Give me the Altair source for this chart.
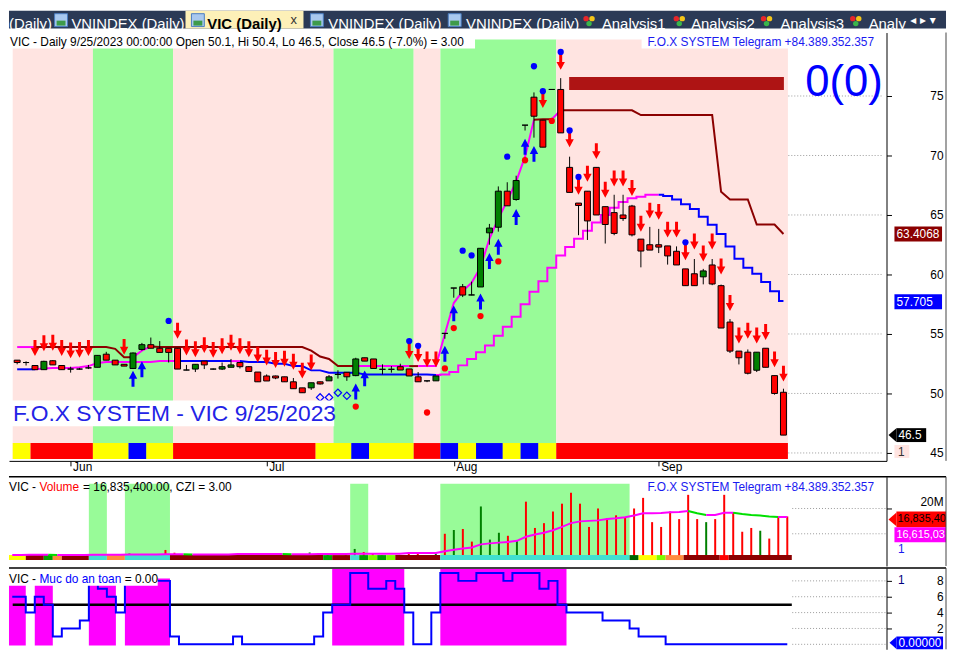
import altair as alt
import pandas as pd

# ============================ values ============================
opens = [52.8, 52.6, 52.35, 52.0, 52.75, 52.35, 52.05, 52.05, 52.15, 52.2,
         53.3, 52.8, 52.45, 52.1, 53.7, 54.1, 53.8, 53.8, 53.8, 51.97,
         52.05, 52.72, 52.05, 52.05, 52.2, 52.6, 52.25, 51.8, 51.47, 51.47,
         51.4, 50.98, 50.47, 50.47, 50.98, 51.06, 51.6, 51.78, 51.5, 53.0,
         52.9, 52.03, 52.03, 52.25, 52.06, 51.4, 51.06, 51.06, 55.05, 58.86,
         58.97, 58.28, 58.95, 63.5, 63.97, 67.0, 66.3, 72.55, 74.9, 72.97,
         75.55, 75.55, 69.0, 66.0, 67.0, 69.0, 65.7, 65.2, 65.0, 65.75,
         62.97, 62.5, 62.5, 62.4, 61.95, 60.47, 60.06, 59.8, 60.8, 59.06,
         56.0, 53.56, 53.47, 51.95, 53.8, 51.5, 50.1]
highs = [52.8, 52.7, 52.35, 52.75, 52.8, 52.35, 52.25, 52.15, 52.4, 53.2,
         53.5, 52.8, 52.45, 53.45, 54.25, 54.7, 54.4, 53.8, 53.8, 52.4,
         52.45, 52.72, 52.1, 52.6, 52.9, 52.6, 52.3, 51.8, 51.6, 51.5,
         51.4, 51.3, 50.47, 50.9, 51.0, 51.55, 51.95, 51.78, 53.0, 53.0,
         52.9, 52.45, 52.3, 52.5, 52.06, 51.8, 51.06, 51.47, 55.05, 58.86,
         59.2, 59.4, 62.2, 64.25, 67.4, 67.75, 68.3, 72.55, 75.3, 72.97,
         75.55, 76.5, 69.9, 66.0, 67.0, 69.0, 65.7, 66.7, 66.7, 65.85,
         62.97, 64.0, 63.83, 62.4, 62.36, 60.47, 61.3, 60.47, 61.3, 59.15,
         56.25, 53.56, 53.7, 53.47, 53.8, 51.5, 50.4]
lows = [52.45, 52.35, 52.0, 52.0, 52.4, 52.0, 51.75, 52.0, 52.05, 52.2,
        52.8, 52.4, 52.3, 52.05, 53.6, 53.8, 53.45, 52.6, 52.05, 51.95,
        51.8, 52.05, 52.0, 51.97, 52.2, 52.1, 51.85, 50.98, 51.05, 51.2,
        50.98, 50.4, 50.06, 50.3, 50.75, 51.06, 51.25, 51.06, 51.45, 52.72,
        52.1, 51.6, 51.75, 51.97, 51.47, 50.98, 50.95, 51.06, 54.6, 58.05,
        58.1, 58.25, 58.95, 62.5, 63.6, 65.77, 66.2, 72.1, 71.5, 70.7,
        75.55, 71.9, 66.9, 63.3, 62.9, 65.0, 62.6, 63.3, 64.5, 63.2,
        60.6, 62.05, 61.8, 60.83, 60.8, 59.06, 59.06, 59.17, 59.1, 55.5,
        53.4, 52.44, 51.6, 51.8, 52.2, 49.9, 46.5]
closes = [52.6, 52.6, 52.0, 52.7, 52.4, 52.0, 52.05, 52.05, 52.15, 53.2,
          52.8, 52.4, 52.3, 53.4, 54.1, 53.8, 53.45, 53.45, 52.05, 51.97,
          52.45, 52.4, 52.05, 52.25, 52.4, 52.25, 51.85, 50.98, 51.05, 51.3,
          50.98, 50.4, 50.06, 50.9, 50.8, 51.4, 51.6, 51.4, 52.9, 52.72,
          52.1, 52.03, 52.03, 51.97, 51.47, 50.98, 51.06, 51.47, 55.05, 58.86,
          58.27, 58.28, 62.2, 63.9, 67.0, 65.77, 67.9, 72.55, 73.3, 70.7,
          75.55, 71.9, 66.9, 65.8, 64.5, 65.0, 64.2, 63.45, 64.7, 63.33,
          61.97, 62.05, 62.3, 61.56, 60.8, 59.06, 59.06, 60.3, 59.2, 55.5,
          53.56, 53.0, 51.7, 53.47, 52.2, 50.0, 46.5]

month_names = ["Jun", "Jul", "Aug", "Sep"]
month_first_bar = [6, 28, 49, 72]
price_ticks = [45, 50, 55, 60, 65, 70, 75]

zone_runs = [("bear", 0, 8), ("bull", 9, 17), ("bear", 18, 35), ("bull", 36, 44),
             ("bear", 45, 47), ("bull", 48, 60), ("bear", 61, 86)]
signal_runs = [("Y", 0, 1), ("R", 2, 8), ("Y", 9, 12), ("B", 13, 14), ("Y", 15, 17),
               ("R", 18, 33), ("Y", 34, 37), ("B", 38, 39), ("Y", 40, 44), ("R", 45, 47),
               ("B", 48, 49), ("Y", 50, 51), ("B", 52, 54), ("Y", 55, 56), ("B", 57, 58),
               ("Y", 59, 60), ("R", 61, 86)]

upper_band = [53.9, 53.9, 53.9, 53.9, 53.9, 53.9, 53.9, 53.9, 53.9, 53.9,
              53.9, 53.75, 53.05, 53.05, 53.6, 53.95, 53.9, 53.9, 53.9, 53.9,
              53.9, 53.9, 53.9, 53.9, 53.9, 53.9, 53.9, 53.9, 53.9, 53.9,
              53.9, 53.9, 53.9, 53.6, 53.1, 52.9, 52.3, 52.3, 52.3, 52.3,
              52.3, 52.3, 52.3, 52.3, 52.3, 52.3, 52.3, 52.3, 55.0, 57.6,
              58.6, 59.3, 60.6, 63.0, 64.7, 66.2, 67.8, 69.9, 73.0, 73.05,
              73.05, 73.8, 73.8, 73.8, 73.8, 73.8, 73.8, 73.8, 73.8, 73.8,
              73.4, 73.4, 73.4, 73.4, 73.4, 73.4, 73.4, 73.4, 73.4, 66.95,
              66.3, 66.3, 66.3, 64.2, 64.2, 64.2, 63.4]
upper_runs = [("M", 0, 1), ("R", 2, 12), ("M", 13, 14), ("R", 15, 37), ("M", 38, 43),
              ("R", 44, 44), ("M", 45, 57), ("R", 58, 59), ("M", 60, 60), ("R", 61, 85)]
lower_band = [52.03, 52.03, 52.03, 52.1, 52.14, 52.14, 52.14, 52.2, 52.3, 52.56,
              52.64, 52.64, 52.64, 52.64, 52.64, 52.64, 52.72, 52.72, 52.72, 52.72,
              52.72, 52.72, 52.72, 52.72, 52.72, 52.72, 52.64, 52.64, 52.64, 52.5,
              52.5, 52.3, 52.3, 51.94, 51.94, 51.75, 51.75, 51.75, 51.75, 51.6,
              51.6, 51.6, 51.6, 51.6, 51.6, 51.6, 51.6, 51.55]
lower_runs = [("B", 0, 1), ("M", 2, 17), ("B", 18, 23), ("M", 24, 24), ("B", 25, 46)]
trend_start = 47
trend_line = [51.55, 51.6, 51.8, 52.36, 52.9, 53.47, 54.03, 54.86, 55.6, 56.44,
              57.5, 58.55, 59.44, 60.56, 61.6, 62.3, 63.0, 63.67, 64.36, 65.0,
              65.6, 66.1, 66.4, 66.53, 66.7, 66.7, 66.6, 66.3, 65.9, 65.5,
              64.86, 64.17, 63.4, 62.36, 61.33, 60.56, 60.06, 59.36, 58.6, 57.78]
trend_runs = [("M", 47, 71), ("B", 72, 85)]

sell_bars = [2, 3, 4, 5, 6, 7, 8, 12, 18, 19, 20, 21, 22, 23, 24, 25, 26, 27, 28, 29,
             30, 31, 32, 33, 44, 45, 46, 47, 59, 61, 62, 63, 64, 65, 66, 67, 68, 69,
             70, 71, 72, 73, 74, 75, 76, 77, 78, 79, 80, 81, 82, 83, 84, 85, 86]
sell_tips = [53.15, 53.55, 53.6, 53.15, 52.95, 53.0, 53.15, 53.25, 54.6, 53.2,
             53.05, 53.4, 53.0, 53.3, 53.6, 53.3, 53.05, 52.6, 52.35, 52.15,
             52.25, 52.0, 51.25, 51.94, 52.9, 52.64, 52.2, 52.2, 74.0, 77.2,
             70.7, 66.7, 67.8, 69.7, 66.45, 67.4, 67.4, 66.6, 63.6, 64.7,
             64.6, 63.1, 63.1, 61.2, 62.1, 61.1, 62.1, 60.0, 56.94, 54.2,
             54.6, 54.2, 54.5, 52.2, 51.0]
buy_bars = [13, 14, 38, 39, 48, 49, 52, 53, 54, 56, 57, 58]
buy_tips = [51.9, 52.7, 50.83, 51.94, 54.0, 57.4, 58.4, 61.8, 63.0, 65.5, 71.4, 70.8]
blue_dot_bars = [17, 44, 45, 50, 51, 55, 58, 59, 61, 62, 63, 75]
blue_dot_vals = [56.1, 54.4, 54.0, 62.0, 61.6, 69.9, 77.5, 75.4, 78.7, 72.1, 68.2, 62.7]
red_dot_bars = [38, 46, 48, 49, 52, 54, 57, 60]
red_dot_vals = [48.9, 48.4, 52.1, 55.5, 56.5, 61.1, 69.6, 72.9]
ring_bars = [34, 35, 36, 37]
ring_vals = [49.67, 49.67, 50.06, 49.8]
zone_box = {"x0": 61.95, "x1": 86.05, "lo": 75.5, "hi": 76.6}

price_tag_vals = [63.4068, 57.705]
price_tag_text = ["63.4068", "57.705"]
price_tag_kind = ["R", "B"]
last_close = 46.5
last_close_text = "46.5"

volume_m = [1.2, 0.8, 1.0, 1.5, 1.2, 1.0, 0.8, 0.7, 0.9, 2.0,
            1.5, 1.2, 0.8, 2.2, 1.8, 1.5, 1.2, 3.6, 2.5, 1.0,
            1.2, 1.1, 0.8, 1.0, 1.3, 1.4, 1.6, 2.0, 1.5, 1.0,
            1.3, 1.6, 1.8, 2.6, 1.4, 2.0, 1.2, 1.5, 4.0, 2.8,
            2.0, 1.5, 1.3, 1.6, 2.0, 2.4, 1.5, 2.2, 10.0, 11.5,
            11.9, 6.9, 20.8, 7.7, 10.4, 9.2, 7.3, 22.7, 12.3, 14.2,
            18.8, 21.9, 26.2, 21.9, 12.7, 20.0, 16.2, 17.3, 16.5, 20.0,
            24.2, 14.6, 12.7, 18.8, 15.8, 25.4, 15.8, 14.6, 15.8, 25.4,
            18.5, 10.8, 12.3, 11.2, 8.1, 16.9, 16.84]
volume_ma_m = [1.6, 1.6, 1.7, 1.7, 1.7, 1.6, 1.6, 1.6, 1.6, 1.7,
               1.7, 1.7, 1.7, 1.8, 1.8, 1.8, 1.8, 1.9, 1.9, 1.9,
               1.8, 1.8, 1.8, 1.8, 1.8, 2.0, 2.0, 2.0, 2.0, 2.0,
               2.0, 1.9, 1.9, 1.9, 2.0, 2.0, 2.0, 2.0, 2.1, 2.1,
               2.1, 2.1, 2.1, 2.1, 2.4, 2.4, 2.4, 2.4, 3.1, 3.7,
               4.2, 4.6, 5.8, 6.2, 6.5, 6.7, 7.2, 8.8, 9.7, 10.4,
               11.4, 12.7, 14.2, 14.9, 15.1, 15.3, 15.8, 16.1, 16.5, 17.2,
               18.1, 18.1, 18.2, 18.5, 18.6, 19.0, 18.1, 17.4, 17.4, 18.3,
               18.3, 17.8, 17.4, 17.2, 16.8, 16.6, 16.62]
green_volume_dojis = [49]
vol_zone_runs = [(9, 10), (13, 17), (38, 39), (48, 68)]
vol_strip_runs = [("y", 0, 1), ("d", 2, 3), ("g", 4, 4), ("o", 5, 5), ("d", 6, 8), ("c", 9, 10),
                  ("o", 11, 12), ("c", 13, 17), ("d", 18, 34), ("g", 35, 35), ("d", 36, 37),
                  ("c", 38, 38), ("g", 39, 39), ("l", 40, 40), ("g", 41, 41), ("l", 42, 42),
                  ("d", 43, 47), ("c", 48, 68), ("k", 69, 69), ("y", 70, 71), ("l", 72, 72),
                  ("o", 73, 74), ("d", 75, 78), ("r", 79, 79), ("d", 80, 86)]
vol_grid = [10, 20]
vol_ticks = [20]

safety = [6, 6, 4, 6, 5, 1, 2, 2, 3, 8,
          7, 6, 4, 8, 8.3, 8, 8, 8, 1, 0,
          0, 0, 0, 0, 0, 1, 0, 0, 0, 0,
          0, 0, 0, 0, 1, 4, 5, 5, 9, 9,
          7, 7, 8, 7, 4, 0, 0, 4, 9, 9,
          8, 8, 9, 9, 9, 8, 9, 9, 9, 7,
          8, 5, 4, 4, 4, 4, 3, 3, 3, 2,
          1, 1, 1, 0, 0, 0, 0, 0, 0, 0,
          0, 0, 0, 0, 0, 0, 0]
safety_block_runs = [(0, 1, 8.3), (3, 4, 8.3), (9, 11, 8.3), (13, 17, 8.3), (36, 43, 9.5), (48, 61, 9.5)]
safety_grid = [0, 2, 4, 6, 8]
safety_ticks = [2, 4, 6, 8]
safety_level = 5

tab_names = ["(Daily)", "VNINDEX (Daily)", "VIC (Daily)", "VNINDEX (Daily)", "VNINDEX (Daily)",
             "Analysis1", "Analysis2", "Analysis3", "Analy"]
active_tab = 2

TITLE_PRICE = "VIC - Daily 9/25/2023 00:00:00 Open 50.1, Hi 50.4, Lo 46.5, Close 46.5 (-7.0%)  = 3.00"
BRAND = "F.O.X SYSTEM Telegram +84.389.352.357"
BIG = "0(0)"
WATERMARK = "F.O.X SYSTEM - VIC 9/25/2023"
VOL_TITLE = ["VIC -", "Volume", "= 16,835,400.00, CZI = 3.00"]
VOL_TAGS = ["16,835,40", "16,615,03"]
SAFE_TITLE = ["VIC -", "Muc do an toan", "= 0.00"]
SAFE_TAG = "0.00000"

# ============================ styles and layout ============================
FONT = "Liberation Sans"
LINE_COL = {"R": "#8B0000", "M": "#FF00FF", "B": "#0000FF"}
ZONE_COL = {"bear": "#FFE4E1", "bull": "#98FB98"}
SIG_COL = {"Y": "#FFFF00", "R": "#FF0000", "B": "#0000FF"}
VSTRIP_COL = {"y": "#FFFF00", "d": "#8B0000", "g": "#00A000", "o": "#FF8C40", "c": "#40E0D0",
              "l": "#7CFC00", "k": "#006400", "r": "#FF0000"}
UP_COL, DOWN_COL = "#008000", "#FF0000"
TAB_TEXT_X = [0, 63, 200, 322, 461, 598, 688, 778, 867]
CHART_ICON_X = [46, 184, 304, 443]
HEART_ICON_X = [582, 673, 761, 851]

PW = 885
PH, VH, SH, TH, TW = 432, 90, 82, 18, 945
X_DOM = [-0.361, 97.01]
GRID_FROM = 86.55

DOWN = "M0,0L-0.85,-1.6L-0.3,-1.6L-0.3,-3.2L0.3,-3.2L0.3,-1.6L0.85,-1.6Z"
UP = "M0,0L-0.85,1.6L-0.3,1.6L-0.3,3.2L0.3,3.2L0.3,1.6L0.85,1.6Z"
LEFT_TIP = "M-1,0L1,-1.75L1,1.75Z"

one = pd.DataFrame({"k": [0]})


def txt(s, x, y, size=12, color="black", align="left", baseline="alphabetic", weight="normal", font=FONT):
    return alt.Chart(one).mark_text(text=s, align=align, baseline=baseline, fontSize=size, color=color,
                                    fontWeight=weight, font=font).encode(x=alt.value(x), y=alt.value(y))


def box(x0, x1, y0, y1, color):
    return alt.Chart(one).mark_rect(color=color).encode(
        x=alt.value(x0), x2=alt.value(x1), y=alt.value(y0), y2=alt.value(y1))


def vline(x, h, color="#444444"):
    return alt.Chart(one).mark_rule(color=color, strokeWidth=1).encode(
        x=alt.value(x), y=alt.value(0), y2=alt.value(h))


def runs_rects(runs, palette):
    return pd.DataFrame([{"x0": a - 0.5, "x1": b + 0.5, "col": palette[c]} for c, a, b in runs])


def run_segments(start, values, runs, name):
    rows = []
    last = start + len(values) - 1
    for n, (code, a, b) in enumerate(runs):
        for k in range(a, min(b + 1, last) + 1):
            rows.append({"seg": f"{name}{n}", "i": k, "v": values[k - start], "col": LINE_COL[code]})
    return rows


x_scale = alt.Scale(domain=X_DOM, nice=False, zero=False)

# ============================ tab bar ============================
tab_scale = alt.Scale(domain=[0, TW], nice=False, zero=False)
tabs_df = pd.DataFrame({"name": tab_names, "x": TAB_TEXT_X})
inactive = tabs_df.drop(index=active_tab)
active = tabs_df.loc[[active_tab]]
icon_df = pd.DataFrame({"x0": CHART_ICON_X, "x1": [v + 13 for v in CHART_ICON_X],
                        "g0": [v + 2 for v in CHART_ICON_X], "g1": [v + 11 for v in CHART_ICON_X]})
heart_df = pd.DataFrame({"x": HEART_ICON_X})
TX = lambda f: alt.X(f + ":Q", scale=tab_scale, axis=None)

tabs = alt.layer(
    box(0, TW, 0, TH, "#2B3A56"),
    box(178, 297, 0, TH, "#FDF0B8"),
    alt.Chart(icon_df).mark_rect(color="#A9C8EE", stroke="#4A7CC0", strokeWidth=1).encode(
        x=TX("x0"), x2="x1", y=alt.value(3), y2=alt.value(16)),
    alt.Chart(icon_df).mark_rect(color="#3E9B4A").encode(x=TX("g0"), x2="g1", y=alt.value(10), y2=alt.value(15)),
    alt.Chart(heart_df).mark_point(shape="circle", filled=True, size=30, color="#E8262A", opacity=1).encode(
        x=TX("x"), y=alt.value(8)),
    alt.Chart(heart_df).mark_point(shape="circle", filled=True, size=30, color="#F5C518", opacity=1).encode(
        x=TX("x"), y=alt.value(8), xOffset=alt.value(6)),
    alt.Chart(heart_df).mark_point(shape="circle", filled=True, size=30, color="#3BB54A", opacity=1).encode(
        x=TX("x"), y=alt.value(13), xOffset=alt.value(3)),
    alt.Chart(inactive).mark_text(align="left", fontSize=15, color="white", font=FONT).encode(
        x=TX("x"), y=alt.value(13), text="name:N"),
    alt.Chart(active).mark_text(align="left", fontSize=15, color="black", fontWeight="bold", font=FONT).encode(
        x=TX("x"), y=alt.value(13), text="name:N"),
    txt("x", 284, 13, size=13, color="#333333"),
    txt("\u25c2 \u25b8 \u25be", 909, 13, size=12, color="white", font="DejaVu Sans"),
).properties(width=TW, height=TH)

# ============================ price panel ============================
label_expr = " : ".join(f"datum.value == {b} ? '{m}'" for b, m in zip(month_first_bar, month_names)) + " : ''"
px_axis = alt.Axis(values=month_first_bar, labelExpr=label_expr, orient="bottom", domainColor="black",
                   tickColor="black", tickSize=5, labelAlign="left", labelBaseline="top", labelPadding=-4,
                   labelOffset=2, labelFontSize=12, labelColor="black", labelFont=FONT, grid=False,
                   title=None, labelFlush=False, labelOverlap=False)
price_scale = alt.Scale(domain=[44.3333, 80.3333], nice=False, zero=False)
py_axis = alt.Axis(values=price_ticks, orient="right", domainColor="black", tickColor="black", tickSize=5,
                   labelAlign="right", labelBaseline="middle", labelPadding=52, labelFontSize=12,
                   labelColor="black", labelFont=FONT, grid=False, title=None)
PX = lambda f: alt.X(f + ":Q", scale=x_scale, axis=px_axis)
PY = lambda f: alt.Y(f + ":Q", scale=price_scale, axis=py_axis)
COL = alt.Color("col:N", scale=None)

candles = pd.DataFrame({"i": range(len(opens)), "o": opens, "h": highs, "l": lows, "c": closes})
candles["col"] = [UP_COL if c > o else DOWN_COL for o, c in zip(opens, closes)]

zones = runs_rects(zone_runs, ZONE_COL)
signals = runs_rects(signal_runs, SIG_COL)
pgrid = pd.DataFrame({"v": price_ticks, "x0": GRID_FROM, "x1": X_DOM[1]})
lines_lin = pd.DataFrame(run_segments(0, upper_band, upper_runs, "u") + run_segments(0, lower_band, lower_runs, "l"))
lines_step = pd.DataFrame(run_segments(trend_start, trend_line, trend_runs, "s"))
sell = pd.DataFrame({"i": sell_bars, "v": sell_tips})
buy = pd.DataFrame({"i": buy_bars, "v": buy_tips})
bdots = pd.DataFrame({"i": blue_dot_bars, "v": blue_dot_vals})
rdots = pd.DataFrame({"i": red_dot_bars, "v": red_dot_vals})
rings = pd.DataFrame({"i": ring_bars, "v": ring_vals})
zbox = pd.DataFrame([zone_box])
ptags = pd.DataFrame({"v": price_tag_vals, "t": price_tag_text, "col": [LINE_COL[k] for k in price_tag_kind]})
ctag = pd.DataFrame({"v": [last_close], "t": [last_close_text]})

price = alt.layer(
    alt.Chart(zones).mark_rect(clip=True).encode(x=PX("x0"), x2="x1", y=alt.value(7), y2=alt.value(430), color=COL),
    alt.Chart(pgrid).mark_rule(color="#9a9a9a", strokeDash=[1, 2]).encode(x=PX("x0"), x2="x1", y=PY("v")),
    alt.Chart(signals).mark_rect(clip=True).encode(x=PX("x0"), x2="x1", y=alt.value(414), y2=alt.value(430), color=COL),
    box(0, 470, 1, 16, "white"),
    box(638, 790, 1, 16, "white"),
    alt.Chart(zbox).mark_rect(color="#AE1414").encode(x=PX("x0"), x2="x1", y=PY("lo"), y2="hi"),
    alt.Chart(lines_lin).mark_line(strokeWidth=2).encode(x=PX("i"), y=PY("v"), detail="seg:N", color=COL),
    alt.Chart(lines_step).mark_line(strokeWidth=2, interpolate="step").encode(x=PX("i"), y=PY("v"), detail="seg:N", color=COL),
    alt.Chart(candles).mark_rule(color="black", strokeWidth=1).encode(x=PX("i"), y=PY("l"), y2="h"),
    alt.Chart(candles).mark_bar(width=6, stroke="black", strokeWidth=1).encode(x=PX("i"), y=PY("o"), y2="c", color=COL),
    alt.Chart(sell).mark_point(shape=DOWN, size=100, filled=True, color="#FF0000", opacity=1).encode(x=PX("i"), y=PY("v")),
    alt.Chart(buy).mark_point(shape=UP, size=100, filled=True, color="#0000FF", opacity=1).encode(x=PX("i"), y=PY("v")),
    alt.Chart(bdots).mark_point(shape="circle", size=40, filled=True, color="#0000FF", opacity=1).encode(x=PX("i"), y=PY("v")),
    alt.Chart(rdots).mark_point(shape="circle", size=40, filled=True, color="#FF0000", opacity=1).encode(x=PX("i"), y=PY("v")),
    alt.Chart(rings).mark_point(shape="diamond", size=55, filled=False, color="#0000FF", strokeWidth=1.2, opacity=1).encode(x=PX("i"), y=PY("v")),
    box(2, 328, 371, 397, "white"),
    txt(WATERMARK, 4, 392, size=23, color="#2323E6"),
    txt(TITLE_PRICE, 1, 14),
    txt(BRAND, 644, 14, color="#1A1AF0"),
    txt(BIG, 803, 64, size=44, color="#0000FF", font="Liberation Sans Narrow, Liberation Sans"),
    alt.Chart(ptags).mark_rect(yOffset=-7.5, y2Offset=7.5).encode(x=alt.value(893), x2=alt.value(941), y=PY("v"), y2="v", color=COL),
    alt.Chart(ptags).mark_text(align="left", baseline="middle", color="white", fontSize=12, font=FONT).encode(
        x=alt.value(895), y=PY("v"), text="t:N"),
    alt.Chart(ctag).mark_rect(color="black", yOffset=-7, y2Offset=7).encode(x=alt.value(895), x2=alt.value(925), y=PY("v"), y2="v"),
    alt.Chart(ctag).mark_point(shape=LEFT_TIP, size=64, filled=True, color="black", opacity=1).encode(x=alt.value(891), y=PY("v")),
    alt.Chart(ctag).mark_text(align="left", baseline="middle", color="white", fontSize=12, font=FONT).encode(
        x=alt.value(897), y=PY("v"), text="t:N"),
    box(893, 908, 416, 429, "#FFE4E1"),
    txt("1", 900, 423, color="#333333", align="center", baseline="middle"),
    vline(945, PH),
).properties(width=PW, height=PH)

# ============================ volume panel ============================
vol_scale = alt.Scale(domain=[-2.745, 32.55], nice=False, zero=False)
vy_axis = alt.Axis(values=vol_ticks, labelExpr="'20M'", orient="right", domainColor="black", tickColor="black",
                   tickSize=5, labelAlign="right", labelBaseline="bottom", labelPadding=52, labelFontSize=12,
                   labelColor="black", labelFont=FONT, grid=False, title=None)
VX = lambda f: alt.X(f + ":Q", scale=x_scale, axis=None)
VY = lambda f: alt.Y(f + ":Q", scale=vol_scale, axis=vy_axis)

vol = pd.DataFrame({"i": range(len(volume_m)), "v": volume_m, "zero": 0})
vol["col"] = [UP_COL if (c > o or k in green_volume_dojis) else DOWN_COL
              for k, (o, c) in enumerate(zip(opens, closes))]
ma_codes = ["g" if volume_ma_m[k + 1] < volume_ma_m[k] else "m" for k in range(len(volume_ma_m) - 1)]
ma_runs = []
for k, code in enumerate(ma_codes):
    if ma_runs and ma_runs[-1][0] == code:
        ma_runs[-1][2] = k
    else:
        ma_runs.append([code, k, k])
ma_rows = []
for n, (code, a, b) in enumerate(ma_runs):
    for k in range(a, b + 2):
        ma_rows.append({"seg": n, "i": k, "v": volume_ma_m[k], "col": "#00E000" if code == "g" else "#FF00FF"})
ma_df = pd.DataFrame(ma_rows)
vzones = pd.DataFrame([{"x0": a - 0.5, "x1": b + 0.5} for a, b in vol_zone_runs])
vstrip = runs_rects(vol_strip_runs, VSTRIP_COL)
vgrid = pd.DataFrame({"v": vol_grid, "x0": GRID_FROM, "x1": X_DOM[1]})

volume = alt.layer(
    alt.Chart(vzones).mark_rect(color="#98FB98").encode(x=VX("x0"), x2="x1", y=alt.value(7), y2=alt.value(79)),
    alt.Chart(vgrid).mark_rule(color="#9a9a9a", strokeDash=[1, 2]).encode(x=VX("x0"), x2="x1", y=VY("v")),
    alt.Chart(vol).mark_rule(strokeWidth=2).encode(x=VX("i"), y=VY("v"), y2="zero", color=COL),
    alt.Chart(vstrip).mark_rect(clip=True).encode(x=VX("x0"), x2="x1", y=alt.value(79), y2=alt.value(84), color=COL),
    alt.Chart(ma_df).mark_line(strokeWidth=2).encode(x=VX("i"), y=VY("v"), detail="seg:N", color=COL),
    alt.Chart(one).mark_rule(color="black", strokeWidth=1.5).encode(x=alt.value(0), x2=alt.value(945), y=alt.value(0)),
    txt(VOL_TITLE[0], 0, 14),
    txt(VOL_TITLE[1], 30.7, 14, color="#FF0000"),
    txt(VOL_TITLE[2], 74.7, 14),
    txt(BRAND, 644, 14, color="#1A1AF0"),
    box(895, 945, 35, 51, "#FF0000"),
    alt.Chart(one).mark_point(shape=LEFT_TIP, size=64, filled=True, color="#FF0000", opacity=1).encode(
        x=alt.value(891), y=alt.value(43)),
    txt(VOL_TAGS[0], 896, 43, size=11, baseline="middle"),
    box(893, 945, 51, 66, "#FF00FF"),
    txt(VOL_TAGS[1], 895, 58.5, size=11, color="white", baseline="middle"),
    txt("1", 900, 73, color="#1A1AF0", align="center", baseline="middle"),
    vline(945, VH),
).properties(width=PW, height=VH)

# ============================ safety panel ============================
s_scale = alt.Scale(domain=[-0.625, 9.625], nice=False, zero=False)
sy_axis = alt.Axis(values=safety_ticks, orient="right", domainColor="black", tickColor="black", tickSize=5,
                   labelAlign="right", labelBaseline="middle", labelPadding=52, labelFontSize=12,
                   labelColor="black", labelFont=FONT, grid=False, title=None)
SY = lambda f: alt.Y(f + ":Q", scale=s_scale, axis=sy_axis)
blocks = pd.DataFrame([{"x0": a - 0.5, "x1": b + 0.5, "top": t, "bot": -0.15} for a, b, t in safety_block_runs])
sdf = pd.DataFrame({"i": range(len(safety)), "v": safety})
sgrid = pd.DataFrame({"v": safety_grid, "x0": GRID_FROM, "x1": X_DOM[1]})
slevel = pd.DataFrame({"x0": [0.05], "x1": [86.5], "v": [safety_level]})

safe = alt.layer(
    alt.Chart(blocks).mark_rect(color="#FF00FF", clip=True).encode(x=VX("x0"), x2="x1", y=SY("bot"), y2="top"),
    alt.Chart(sgrid).mark_rule(color="#9a9a9a", strokeDash=[1, 2]).encode(x=VX("x0"), x2="x1", y=SY("v")),
    alt.Chart(slevel).mark_rule(color="black", strokeWidth=2.5).encode(x=VX("x0"), x2="x1", y=SY("v")),
    alt.Chart(sdf).mark_line(color="#0000FF", strokeWidth=2, interpolate="step").encode(x=VX("i"), y=SY("v")),
    alt.Chart(one).mark_rule(color="black", strokeWidth=1.5).encode(x=alt.value(0), x2=alt.value(945), y=alt.value(0)),
    box(0, 150, 4, 18, "white"),
    txt(SAFE_TITLE[0], 0, 15),
    txt(SAFE_TITLE[1], 30.7, 15, color="#0000FF"),
    txt(SAFE_TITLE[2], 116.7, 15),
    txt("1", 900, 12, color="#000080", align="center", baseline="middle"),
    box(895, 942, 69, 82, "#0000FF"),
    alt.Chart(one).mark_point(shape=LEFT_TIP, size=49, filled=True, color="#0000FF", opacity=1).encode(
        x=alt.value(891.5), y=alt.value(75.5)),
    txt(SAFE_TAG, 897, 75.5, color="white", baseline="middle"),
    vline(945, SH),
).properties(width=PW, height=SH)

lower = alt.vconcat(volume, safe, spacing=0).resolve_scale(x="independent", y="independent")
middle = alt.vconcat(price, lower, spacing=3).resolve_scale(x="independent", y="independent")
chart = alt.vconcat(tabs, middle, spacing=0).resolve_scale(x="independent", y="independent")
chart = chart.properties(padding=0, background="white").configure(font=FONT).configure_view(strokeWidth=0)

chart.save("out.html", embed_options={"renderer": "svg", "actions": False})
